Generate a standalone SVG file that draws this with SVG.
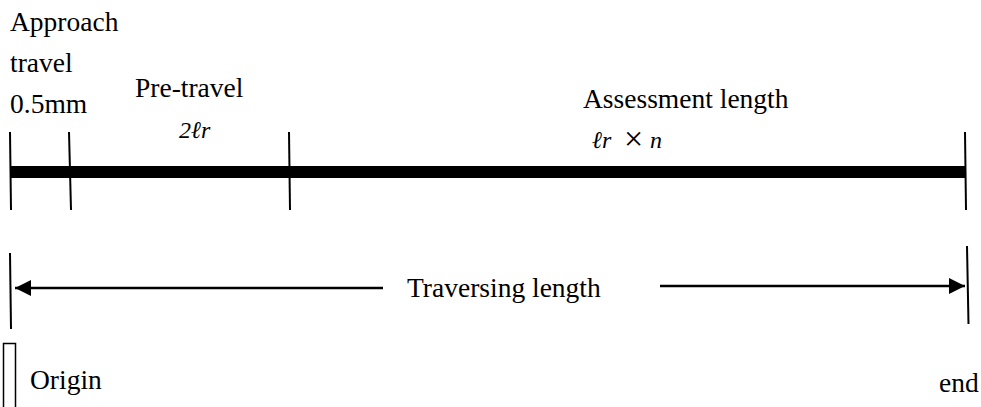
<svg xmlns="http://www.w3.org/2000/svg" width="981" height="407" viewBox="0 0 981 407">
<style>
text{font-family:"Times New Roman","Liberation Serif",serif;fill:#000}
.t{font-size:27.5px}
.m{font-size:24px;font-style:italic}
.x{font-size:34px;font-weight:normal}
.tick{stroke:#000;stroke-width:2;fill:none}
.ln{stroke:#000;stroke-width:2.5;fill:none}
</style>
<defs>
<marker id="ah" markerWidth="16" markerHeight="16" viewBox="0 0 16 16" refX="16" refY="8" orient="auto-start-reverse" markerUnits="userSpaceOnUse">
<path d="M0,0 L16,8 L0,16 Z" fill="#000"/>
</marker>
</defs>
<g id="bar">
<rect x="10" y="166" width="955" height="12" fill="#000"/>
</g>
<g id="ticks">
<line class="tick" x1="10" y1="132" x2="11" y2="210"/>
<line class="tick" x1="69" y1="132" x2="71" y2="210"/>
<line class="tick" x1="289" y1="132" x2="290" y2="210"/>
<line class="tick" x1="965" y1="132" x2="966" y2="210"/>
<line class="tick" x1="10" y1="253" x2="11" y2="329"/>
<line class="tick" x1="967" y1="246" x2="968.5" y2="324"/>
</g>
<g id="connectors">
<line class="ln" x1="383" y1="288" x2="15" y2="288" marker-end="url(#ah)"/>
<line class="ln" x1="660" y1="286" x2="965" y2="286" marker-end="url(#ah)"/>
</g>
<g id="approach">
<text class="t" x="10" y="31">Approach</text>
<text class="t" x="10" y="72">travel</text>
<text class="t" x="10" y="113">0.5mm</text>
</g>
<g id="pretravel">
<text class="t" x="135" y="97">Pre-travel</text>
<text class="m" x="179" y="138">2ℓr</text>
</g>
<g id="assessment">
<text class="t" x="583" y="108">Assessment length</text>
<text class="m" x="592" y="148">ℓr</text>
<text class="x" x="624" y="150">×</text>
<text class="m" x="650" y="148">n</text>
</g>
<g id="traversing">
<text class="t" x="407" y="297">Traversing length</text>
</g>
<g id="origin">
<rect x="3.5" y="343.5" width="12" height="70" fill="none" stroke="#000" stroke-width="1.5"/>
<text class="t" x="30" y="389">Origin</text>
</g>
<g id="end">
<text class="t" x="939" y="392">end</text>
</g>
</svg>
